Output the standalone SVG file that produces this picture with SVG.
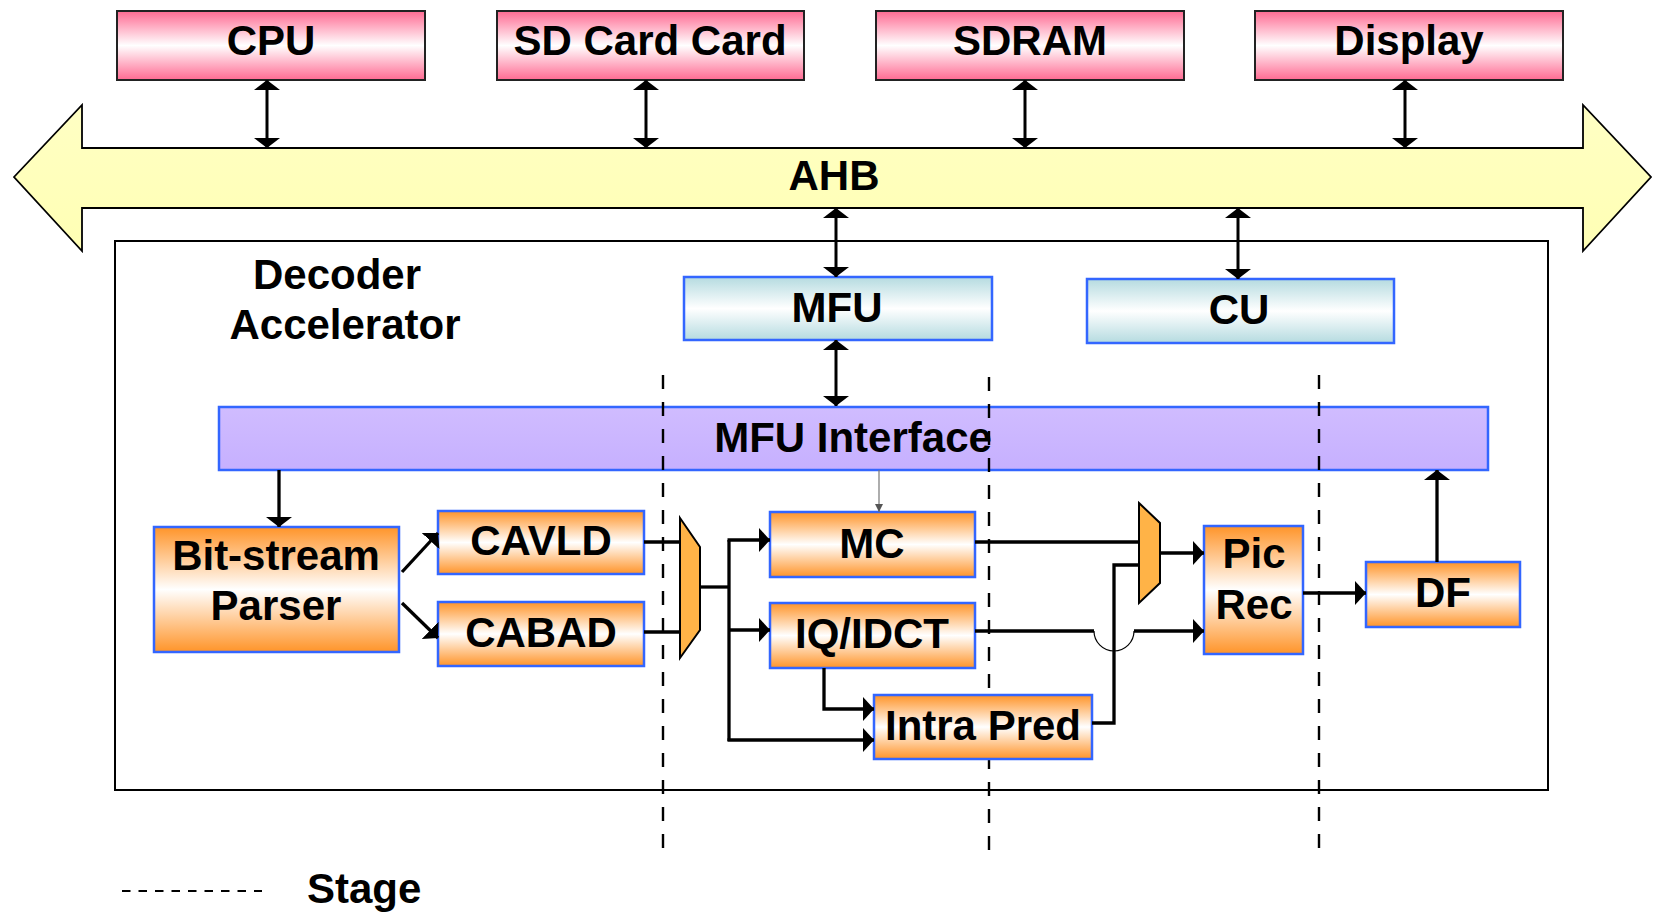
<svg xmlns="http://www.w3.org/2000/svg" width="1656" height="914" viewBox="0 0 1656 914">
<defs>
<linearGradient id="gPink" x1="0" y1="0" x2="0" y2="1">
<stop offset="0" stop-color="#ff6a92"/><stop offset="0.5" stop-color="#ffffff"/><stop offset="1" stop-color="#ff6a92"/>
</linearGradient>
<linearGradient id="gCyan" x1="0" y1="0" x2="0" y2="1">
<stop offset="0" stop-color="#b5dbe0"/><stop offset="0.5" stop-color="#ffffff"/><stop offset="1" stop-color="#b5dbe0"/>
</linearGradient>
<linearGradient id="gOrange" x1="0" y1="0" x2="0" y2="1">
<stop offset="0" stop-color="#ff9429"/><stop offset="0.5" stop-color="#ffffff"/><stop offset="1" stop-color="#ff9429"/>
</linearGradient>
<linearGradient id="gLav" x1="0" y1="0" x2="0" y2="1">
<stop offset="0" stop-color="#d0bcff"/><stop offset="1" stop-color="#c6b0ff"/>
</linearGradient>
<linearGradient id="gYel" x1="0" y1="0" x2="0" y2="1">
<stop offset="0" stop-color="#ffffc4"/><stop offset="1" stop-color="#ffffb4"/>
</linearGradient>
<marker id="ah" viewBox="0 0 11 24" refX="11" refY="12" markerWidth="11" markerHeight="24" orient="auto-start-reverse" markerUnits="userSpaceOnUse">
<path d="M0,0 L11,12 L0,24 z" fill="#000"/>
</marker>
<marker id="ahs" viewBox="0 0 10 26" refX="10" refY="13" markerWidth="10" markerHeight="26" orient="auto-start-reverse" markerUnits="userSpaceOnUse">
<path d="M0,0 L10,13 L0,26 z" fill="#000"/>
</marker>
<marker id="ahg" viewBox="0 0 8 8" refX="8" refY="4" markerWidth="8" markerHeight="8" orient="auto" markerUnits="userSpaceOnUse">
<path d="M0,0 L8,4 L0,8 z" fill="#555"/>
</marker>
<style>
text{font-family:"Liberation Sans",Arial,sans-serif;font-weight:bold;font-size:42px;fill:#000;text-anchor:middle}
.top{fill:url(#gPink);stroke:#222;stroke-width:2}
.cy{fill:url(#gCyan);stroke:#3366ff;stroke-width:2.5}
.or{fill:url(#gOrange);stroke:#3366ff;stroke-width:2.5}
.mux{fill:#ffb347;stroke:#000;stroke-width:2}
.w{fill:none;stroke:#000;stroke-width:3.3}
.bi{fill:none;stroke:#000;stroke-width:3;marker-start:url(#ahs);marker-end:url(#ahs)}
.ar{marker-end:url(#ah)}
.dash{fill:none;stroke:#000;stroke-width:2.4;stroke-dasharray:14 13}
</style>
</defs>
<rect width="1656" height="914" fill="#fff"/>

<g id="ahb">
<polygon points="14,177 82,105 82,148 1583,148 1583,105 1651,177 1583,251 1583,208 82,208 82,251" fill="url(#gYel)" stroke="#000" stroke-width="1.8"/>
<text x="834" y="190">AHB</text>
</g>

<g id="decoder">
<rect x="115" y="241" width="1433" height="549" fill="none" stroke="#000" stroke-width="2"/>
<text x="337" y="289">Decoder</text>
<text x="345" y="339">Accelerator</text>
</g>

<g id="cpu"><rect class="top" x="117" y="11" width="308" height="69"/><text x="271" y="55">CPU</text></g>
<g id="sdcard"><rect class="top" x="497" y="11" width="307" height="69"/><text x="650" y="55">SD Card Card</text></g>
<g id="sdram"><rect class="top" x="876" y="11" width="308" height="69"/><text x="1030" y="55">SDRAM</text></g>
<g id="display"><rect class="top" x="1255" y="11" width="308" height="69"/><text x="1409" y="55">Display</text></g>

<g id="mfu"><rect class="cy" x="684" y="277" width="308" height="63"/><text x="837" y="322">MFU</text></g>
<g id="cu"><rect class="cy" x="1087" y="279" width="307" height="64"/><text x="1239" y="324">CU</text></g>

<g id="mfu-interface"><rect x="219" y="407" width="1269" height="63" fill="url(#gLav)" stroke="#3366ff" stroke-width="2.5"/><text x="853" y="452">MFU Interface</text></g>

<g id="bitstream"><rect class="or" x="154" y="527" width="245" height="125"/><text x="276" y="570">Bit-stream</text><text x="276" y="620">Parser</text></g>
<g id="cavld"><rect class="or" x="438" y="511" width="206" height="63"/><text x="541" y="555">CAVLD</text></g>
<g id="cabad"><rect class="or" x="438" y="602" width="206" height="64"/><text x="541" y="647">CABAD</text></g>
<g id="mux1"><polygon class="mux" points="680,518 700,547 700,630 680,658"/></g>
<g id="mc"><rect class="or" x="770" y="512" width="205" height="65"/><text x="872" y="558">MC</text></g>
<g id="iqidct"><rect class="or" x="770" y="603" width="205" height="65"/><text x="872" y="648">IQ/IDCT</text></g>
<g id="mux2"><polygon class="mux" points="1139,503 1160,523 1160,583 1139,603"/></g>
<g id="picrec"><rect class="or" x="1204" y="526" width="99" height="128"/><text x="1254" y="568">Pic</text><text x="1254" y="619">Rec</text></g>
<g id="df"><rect class="or" x="1366" y="562" width="154" height="65"/><text x="1443" y="607">DF</text></g>

<g id="stages">
<line class="dash" x1="663" y1="375" x2="663" y2="848"/>
<line class="dash" x1="989" y1="377" x2="989" y2="853"/>
<line class="dash" x1="1319" y1="375" x2="1319" y2="848"/>
</g>

<g id="intrapred"><rect class="or" x="874" y="695" width="218" height="64"/><text x="983" y="740">Intra Pred</text></g>

<g id="connectors">
<line class="bi" x1="267" y1="80" x2="267" y2="148"/>
<line class="bi" x1="646" y1="80" x2="646" y2="148"/>
<line class="bi" x1="1025" y1="80" x2="1025" y2="148"/>
<line class="bi" x1="1405" y1="80" x2="1405" y2="148"/>
<line class="bi" x1="836" y1="208" x2="836" y2="277"/>
<line class="bi" x1="1238" y1="208" x2="1238" y2="279"/>
<line class="bi" x1="836" y1="340" x2="836" y2="406"/>
<line class="w" x1="279" y1="470" x2="279" y2="527" marker-end="url(#ahs)"/>
<line class="w" x1="1437" y1="562" x2="1437" y2="470" marker-end="url(#ahs)"/>
<line x1="879" y1="470" x2="879" y2="512" stroke="#777" stroke-width="1.2" marker-end="url(#ahg)"/>
<line class="w ar" x1="402" y1="572" x2="438" y2="533"/>
<line class="w ar" x1="402" y1="603" x2="438" y2="638"/>
<line class="w" x1="644" y1="542" x2="680" y2="542"/>
<line class="w" x1="644" y1="632" x2="680" y2="632"/>
<line class="w" x1="700" y1="587" x2="729" y2="587"/>
<line class="w" x1="729" y1="540" x2="729" y2="741"/>
<line class="w ar" x1="727.5" y1="540" x2="770" y2="540"/>
<line class="w ar" x1="729" y1="630" x2="770" y2="630"/>
<line class="w ar" x1="727.5" y1="740" x2="874" y2="740"/>
<polyline class="w ar" points="824,668 824,709 874,709"/>
<line class="w" x1="975" y1="542" x2="1139" y2="542"/>
<polyline class="w" points="1092,723 1114,723 1114,565 1139,565"/>
<line class="w" x1="975" y1="631" x2="1094" y2="631"/>
<path d="M1094,631 A20,20 0 0 0 1134,631" fill="none" stroke="#000" stroke-width="1.2"/>
<line class="w ar" x1="1134" y1="631" x2="1204" y2="631"/>
<line class="w ar" x1="1160" y1="553" x2="1204" y2="553"/>
<line class="w ar" x1="1303" y1="593" x2="1366" y2="593"/>
</g>

<g id="legend">
<line x1="122" y1="891" x2="262" y2="891" stroke="#000" stroke-width="2" stroke-dasharray="8.5 8"/>
<text x="307" y="903" style="text-anchor:start">Stage</text>
</g>
</svg>
